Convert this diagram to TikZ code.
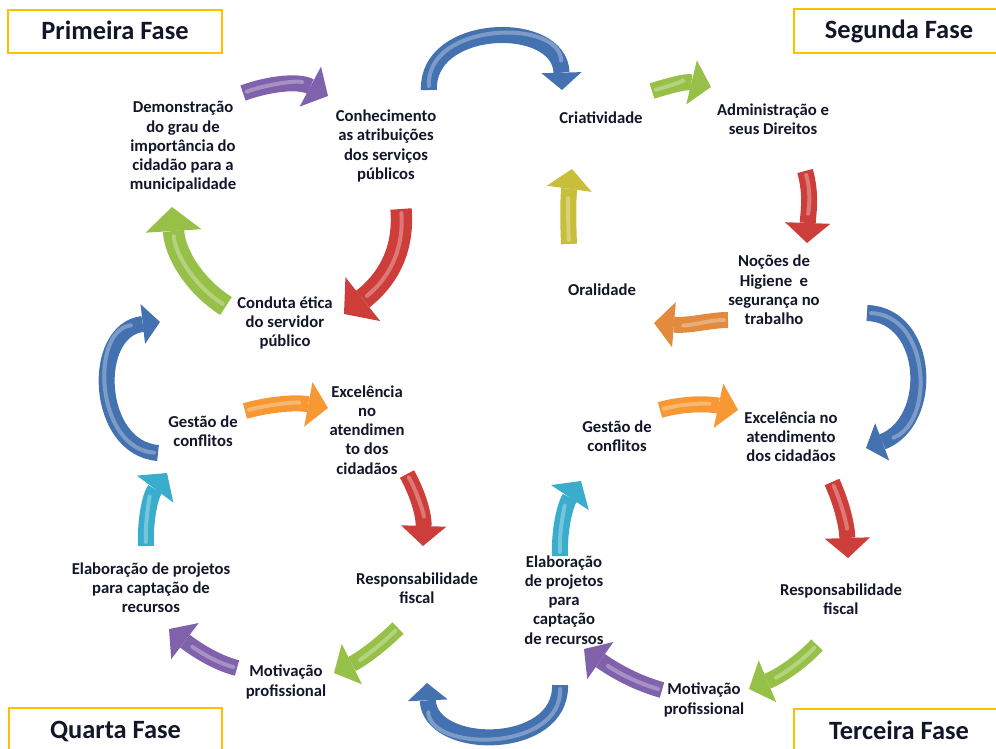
\documentclass[tikz,border=0pt]{standalone}
\usepackage{fontspec}
\setmainfont{Carlito}
\usetikzlibrary{arrows.meta}
\definecolor{textc}{RGB}{18,22,40}
\definecolor{boxc}{RGB}{255,192,0}
\definecolor{blueA}{RGB}{68,114,176}
\definecolor{redA}{RGB}{205,62,58}
\definecolor{greenA}{RGB}{150,192,72}
\definecolor{purpleA}{RGB}{128,98,172}
\definecolor{cyanA}{RGB}{58,172,204}
\definecolor{orangeA}{RGB}{247,152,52}
\definecolor{brownA}{RGB}{226,138,62}
\definecolor{yellowA}{RGB}{200,190,58}
\tikzset{
  lbl/.style={font=\bfseries\fontsize{12.5}{14.4}\selectfont, text=textc, align=center, inner sep=0pt},
  phase/.style={draw=boxc, line width=1.5pt, fill=white, minimum height=32.5pt,
    font=\bfseries\fontsize{19.8}{22}\selectfont, text=textc, inner sep=0pt,
    text height=16pt, text depth=4pt},
  arr/.style={line width=12pt, -{Triangle[length=15pt,width=34pt,line width=0pt]}},
  arrbig/.style={line width=16pt, -{Triangle[length=18pt,width=42pt,line width=0pt]}},
  arrarc/.style={line width=12pt, -{Triangle[length=13pt,width=30pt,line width=0pt]}},
  hl/.style={line width=3pt, line cap=round, shorten >=22pt, shorten <=3pt, opacity=0.3},
}
% #1 colour, #2 style, #3 start, #4 control 1, #5 control 2, #6 end
\newcommand{\blockarrow}[6]{%
  \draw[#2, draw=#1] (#3) .. controls #4 and #5 .. (#6);
  \draw[hl, draw=white] (#3) .. controls #4 and #5 .. (#6);
}
\begin{document}
\begin{tikzpicture}[x=0.75pt,y=-0.75pt]
\useasboundingbox (0,0) rectangle (996,749);
\clip (0,0) rectangle (996,749);

% arrow end points
\coordinate (a1s) at (243,93);   \coordinate (a1e) at (328,96);
\coordinate (a2s) at (429,90);   \coordinate (a2e) at (562,90);
\coordinate (a3s) at (652,91);   \coordinate (a3e) at (711,87);
\coordinate (a4s) at (805,171);  \coordinate (a4e) at (807,243);
\coordinate (a5s) at (728,320);  \coordinate (a5e) at (654,323);
\coordinate (a6s) at (569,244);  \coordinate (a6e) at (572,169);
\coordinate (a7s) at (401,209);  \coordinate (a7e) at (344,314);
\coordinate (a8s) at (226,306);  \coordinate (a8e) at (172,207);
\coordinate (a9s) at (158,453);  \coordinate (a9e) at (160,322);
\coordinate (a10s) at (245,411); \coordinate (a10e) at (328,408);
\coordinate (a11s) at (407,474); \coordinate (a11e) at (423,546);
\coordinate (a12s) at (398,628); \coordinate (a12e) at (334,673);
\coordinate (a13s) at (237,668); \coordinate (a13e) at (169,629);
\coordinate (a14s) at (146,546); \coordinate (a14e) at (167,473);
\coordinate (a15s) at (560,685); \coordinate (a15e) at (427,683);
\coordinate (a16s) at (867,313); \coordinate (a16e) at (866,448);
\coordinate (a17s) at (660,410); \coordinate (a17e) at (738,410);
\coordinate (a18s) at (832,482); \coordinate (a18e) at (848,558);
\coordinate (a19s) at (817,645); \coordinate (a19e) at (749,689);
\coordinate (a20s) at (662,690); \coordinate (a20e) at (584,649);
\coordinate (a21s) at (560,556); \coordinate (a21e) at (581,481);

% first phase
\blockarrow{purpleA}{arr}{a1s}{(268,84)}{(298,80)}{a1e}
\blockarrow{redA}{arrbig}{a7s}{(404,245)}{(392,276)}{a7e}
\blockarrow{greenA}{arrbig}{a8s}{(196,287)}{(175,255)}{a8e}
% second phase
\blockarrow{blueA}{arrarc}{a2s}{(426,22)}{(560,18)}{a2e}
\blockarrow{greenA}{arr}{a3s}{(668,86)}{(686,81)}{a3e}
\blockarrow{redA}{arr}{a4s}{(812,195)}{(808,215)}{a4e}
\blockarrow{brownA}{arr}{a5s}{(710,320)}{(690,326)}{a5e}
\blockarrow{yellowA}{arr}{a6s}{(568,222)}{(568,198)}{a6e}
% fourth phase
\blockarrow{blueA}{arrarc}{a9s}{(95,448)}{(90,330)}{a9e}
\blockarrow{orangeA}{arr}{a10s}{(270,404)}{(296,402)}{a10e}
\blockarrow{redA}{arr}{a11s}{(418,494)}{(424,515)}{a11e}
\blockarrow{greenA}{arr}{a12s}{(380,646)}{(360,660)}{a12e}
\blockarrow{purpleA}{arr}{a13s}{(214,662)}{(194,648)}{a13e}
\blockarrow{cyanA}{arr}{a14s}{(145,520)}{(150,496)}{a14e}
\blockarrow{blueA}{arrarc}{a15s}{(562,752)}{(430,752)}{a15e}
% third phase
\blockarrow{blueA}{arrarc}{a16s}{(930,315)}{(935,422)}{a16e}
\blockarrow{orangeA}{arr}{a17s}{(680,404)}{(706,403)}{a17e}
\blockarrow{redA}{arr}{a18s}{(842,504)}{(847,526)}{a18e}
\blockarrow{greenA}{arr}{a19s}{(800,663)}{(780,676)}{a19e}
\blockarrow{purpleA}{arr}{a20s}{(640,684)}{(618,673)}{a20e}
\blockarrow{cyanA}{arr}{a21s}{(559,530)}{(565,505)}{a21e}

% phase boxes
\node[phase, minimum width=160pt] (p1) at (115,31.5) {Primeira Fase};
\node[phase, minimum width=158pt] (p2) at (899,31) {Segunda Fase};
\node[phase, minimum width=160pt] (p4) at (115.5,730) {Quarta Fase};
\node[phase, minimum width=158pt] (p3) at (899,731) {Terceira Fase};

% labels
\node[lbl] (n1) at (183,147) {Demonstração\\do grau de\\importância do\\cidadão para a\\municipalidade};
\node[lbl] (n2) at (386,146) {Conhecimento\\as atribuições\\dos serviços\\públicos};
\node[lbl] (n3) at (601,118) {Criatividade};
\node[lbl] (n4) at (773,119) {Administração e\\seus Direitos};
\node[lbl] (n5) at (774,290) {Noções de\\Higiene\ \ e\\segurança no\\trabalho};
\node[lbl] (n6) at (602,290) {Oralidade};
\node[lbl] (n7) at (285,323) {Conduta ética\\do servidor\\público};
\node[lbl] (n8) at (203,431) {Gestão de\\conflitos};
\node[lbl] (n9) at (367,430) {Excelência\\no\\atendimen\\to dos\\cidadãos};
\node[lbl] (n10) at (151,588) {Elaboração de projetos\\para captação de\\recursos};
\node[lbl] (n11) at (417,588) {Responsabilidade\\fiscal};
\node[lbl] (n12) at (286,682) {Motivação\\profissional};
\node[lbl] (n13) at (617,436) {Gestão de\\conflitos};
\node[lbl] (n14) at (791,437) {Excelência no\\atendimento\\dos cidadãos};
\node[lbl] (n15) at (564,600) {Elaboração\\de projetos\\para\\captação\\de recursos};
\node[lbl] (n16) at (841,599) {Responsabilidade\\fiscal};
\node[lbl] (n17) at (704,700) {Motivação\\profissional};
\end{tikzpicture}
\end{document}
